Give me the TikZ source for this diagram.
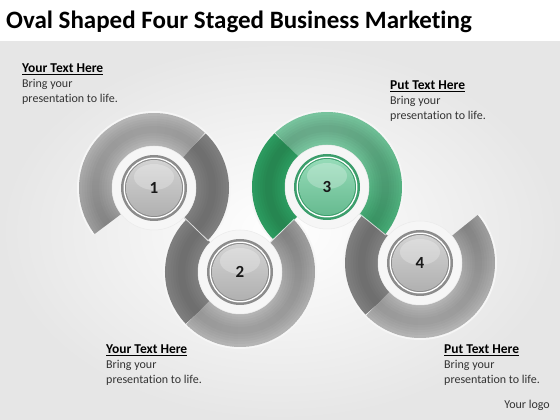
\documentclass[tikz,border=0pt]{standalone}
\usepackage{fontspec}
\setmainfont[Ligatures=NoCommon]{Carlito}
\usetikzlibrary{calc}

\definecolor{bggray}{HTML}{E6E6E6}
\definecolor{halo}{HTML}{F6F6F6}
\definecolor{bandlight}{HTML}{B4B4B4}
\definecolor{banddark}{HTML}{7E7E7E}
\definecolor{greenlight}{HTML}{78C39D}
\definecolor{greendark}{HTML}{2C9A5F}
\definecolor{greenmid}{HTML}{3BA36C}
\definecolor{graymid}{HTML}{8E8E8E}
\definecolor{rimgray}{HTML}{8C8C8C}
\definecolor{rimgreen}{HTML}{3C9E6C}
\definecolor{discgray}{HTML}{C4C4C4}
\definecolor{discgreen}{HTML}{72CFA0}
\definecolor{bodytext}{HTML}{333333}

\newcommand\headfont{\fontsize{13.5}{15}\selectfont\bfseries\color{black}}

\tikzset{
  band/.style={line width=33pt},
  haloarc/.style={line width=37pt, halo},
  tube/.style={line width=#1, black, opacity=.025},
  txt/.style={font=\fontsize{12}{15}\selectfont, align=left, inner sep=0pt, text=bodytext},
  num/.style={font=\fontsize{17}{17}\selectfont\bfseries, text=black!90}
}

% arc of a ring band, centre #2, from #3 to #4
\newcommand\ringarc[4][]{\draw[#1] ($(#2)+(#3:58.5)$) arc[start angle=#3,end angle=#4,radius=58.5];}
% band lit from angle #6
\newcommand\litarc[6]{%
  \pgfmathtruncatemacro\nsteps{abs(#3-#2)/2}
  \foreach \i in {1,...,\nsteps}{
    \pgfmathsetmacro\sa{#2+(#3-#2)*(\i-1)/\nsteps}
    \pgfmathsetmacro\ea{min(#2+(#3-#2)*\i/\nsteps+1,#3)}
    \pgfmathtruncatemacro\w{50+50*cos((\sa+\ea)/2-#6)}
    \ringarc[band,#4!\w!#5]{#1}{\sa}{\ea}
  }}

\begin{document}
\begin{tikzpicture}[x=1pt,y=1pt]
\useasboundingbox (0,0) rectangle (560,420);
\fill[white] (0,0) rectangle (560,420);
\shade[inner color=white, outer color=bggray] (0,0) rectangle (560,378);

\coordinate (c1) at (154,232);
\coordinate (c2) at (240,148);
\coordinate (c3) at (327,233);
\coordinate (c4) at (420,157);

\ringarc[haloarc]{c1}{-44.3}{218}
\ringarc[haloarc]{c2}{135.7}{404.3}
\ringarc[haloarc]{c3}{-39.3}{224.3}
\ringarc[haloarc]{c4}{140.7}{400}

\ringarc[band,banddark]{c1}{-44.3}{47}
\litarc{c1}{47}{218}{bandlight}{graymid}{100}
\ringarc[band,banddark]{c2}{135.7}{224}
\litarc{c2}{224}{404.3}{bandlight}{graymid}{280}
\litarc{c3}{-39.3}{134}{greenlight}{greenmid}{100}
\ringarc[band,greendark]{c3}{134}{224.3}
\ringarc[band,banddark]{c4}{140.7}{224}
\litarc{c4}{224}{400}{bandlight}{graymid}{280}

\foreach \lw in {27pt,22pt,17pt,12pt,7pt}{
  \ringarc[tube=\lw]{c1}{-44.3}{218}
  \ringarc[tube=\lw]{c2}{135.7}{404.3}
  \ringarc[tube=\lw]{c3}{-39.3}{224.3}
  \ringarc[tube=\lw]{c4}{140.7}{400}
}

\draw[white, opacity=.7, line width=.8] ($(c1)+(-44.3:42)$) -- ($(c1)+(-44.3:76)$);
\draw[white, opacity=.7, line width=.8] ($(c2)+(44.3:42)$) -- ($(c2)+(44.3:76)$);
\draw[white, opacity=.7, line width=.8] ($(c3)+(-39.3:42)$) -- ($(c3)+(-39.3:76)$);

\foreach \c/\n/\rim/\disc in {c1/1/rimgray/discgray, c2/2/rimgray/discgray, c3/3/rimgreen/discgreen, c4/4/rimgray/discgray}{
  \fill[halo, draw=black!8, line width=.5] (\c) circle (42);
  \fill[\rim] (\c) circle (33);
  \draw[white, line width=1.3] (\c) circle (29.8);
  \shade[top color=\disc!75!white, bottom color=\disc!90!black] (\c) circle (28);
  \fill[white, opacity=.25] ($(\c)+(0,11)$) ellipse (20 and 13);
  \node[num] (n\n) at (\c) {\n};
}

\node[anchor=base west, inner sep=0pt, font=\fontsize{25}{25}\selectfont\bfseries] (title) at (6,391.5) {Oval Shaped Four Staged Business Marketing};

\node[txt, anchor=north west] (t1) at (22,356.7) {{\headfont\underline{Your Text Here}}\\Bring your\\presentation to life.};
\node[txt, anchor=north west] (t3) at (390,339.7) {{\headfont\underline{Put Text Here}}\\Bring your\\presentation to life.};
\node[txt, anchor=north west] (t2) at (106,75.7) {{\headfont\underline{Your Text Here}}\\Bring your\\presentation to life.};
\node[txt, anchor=north west] (t4) at (444,75.7) {{\headfont\underline{Put Text Here}}\\Bring your\\presentation to life.};
\node[txt, anchor=base east] (logo) at (550,11) {Your logo};
\end{tikzpicture}
\end{document}
